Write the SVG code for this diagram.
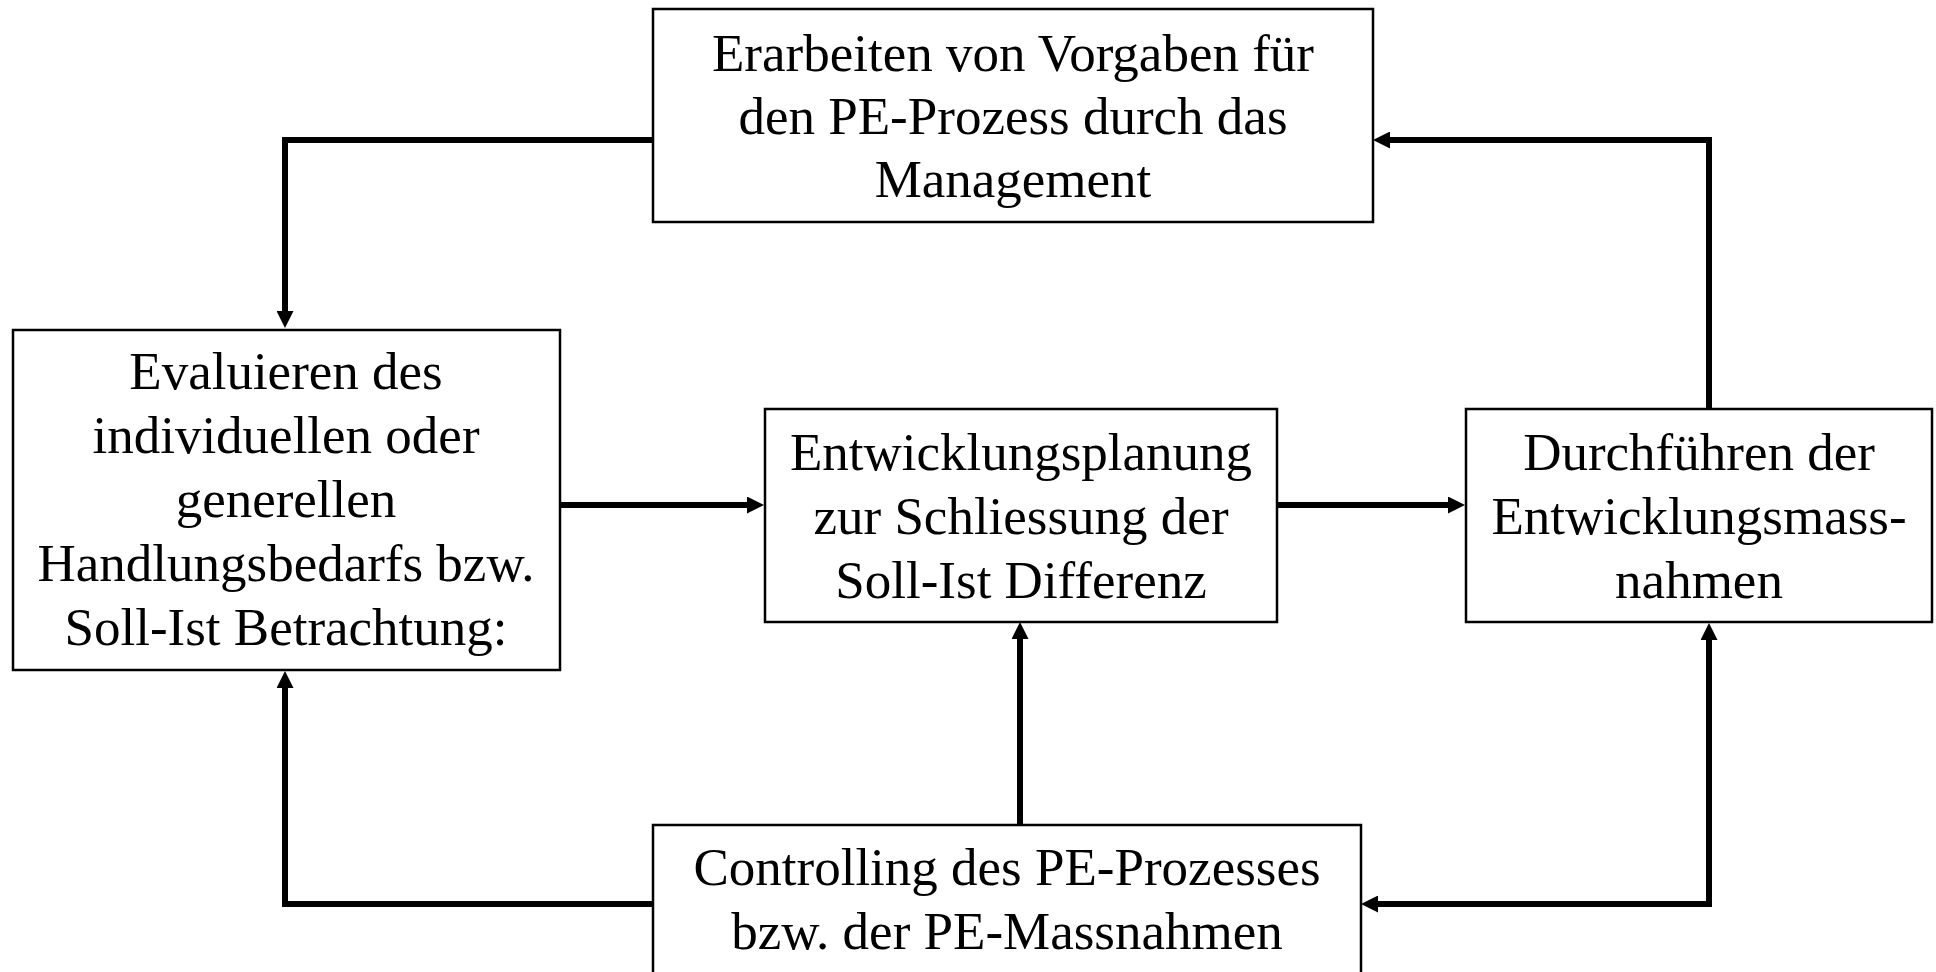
<svg xmlns="http://www.w3.org/2000/svg" width="1936" height="972" viewBox="0 0 1936 972">
  <style>
    .box { fill: #ffffff; stroke: #000000; stroke-width: 2.5; }
    .lbl { font-family: "Liberation Serif", "Times New Roman", serif; font-size: 53px; fill: #000000; text-anchor: middle; }
    .con { fill: none; stroke: #000000; stroke-width: 6; stroke-linejoin: miter; }
  </style>
  <defs>
    <marker id="ah" viewBox="0 0 17 17" refX="7" refY="8.5" markerWidth="17" markerHeight="17" markerUnits="userSpaceOnUse" orient="auto-start-reverse">
      <path d="M0,0 L17,8.5 L0,17 Z" fill="#000000"/>
    </marker>
  </defs>
  <rect width="1936" height="972" fill="#ffffff"/>

  <g id="connectors">
    <path class="con" d="M653,140 H285 V318" marker-end="url(#ah)"/>
    <path class="con" d="M560,505 H754" marker-end="url(#ah)"/>
    <path class="con" d="M1277,505 H1455" marker-end="url(#ah)"/>
    <path class="con" d="M1709,409 V140 H1383" marker-end="url(#ah)"/>
    <path class="con" d="M1020,825 V632" marker-end="url(#ah)"/>
    <path class="con" d="M653,904 H285 V681" marker-end="url(#ah)"/>
    <path class="con" d="M1709,633 V904 H1371" marker-start="url(#ah)" marker-end="url(#ah)"/>
  </g>

  <g id="node-vorgaben">
    <rect class="box" x="653" y="9" width="720" height="213"/>
    <text class="lbl" x="1013" y="71">Erarbeiten von Vorgaben für</text>
    <text class="lbl" x="1013" y="134">den PE-Prozess durch das</text>
    <text class="lbl" x="1013" y="197">Management</text>
  </g>

  <g id="node-evaluieren">
    <rect class="box" x="13" y="330" width="547" height="340"/>
    <text class="lbl" x="286" y="389">Evaluieren des</text>
    <text class="lbl" x="286" y="453">individuellen oder</text>
    <text class="lbl" x="286" y="517">generellen</text>
    <text class="lbl" x="286" y="581">Handlungsbedarfs bzw.</text>
    <text class="lbl" x="286" y="645">Soll-Ist Betrachtung:</text>
  </g>

  <g id="node-planung">
    <rect class="box" x="765" y="409" width="512" height="213"/>
    <text class="lbl" x="1021" y="470">Entwicklungsplanung</text>
    <text class="lbl" x="1021" y="534">zur Schliessung der</text>
    <text class="lbl" x="1021" y="598">Soll-Ist Differenz</text>
  </g>

  <g id="node-durchfuehren">
    <rect class="box" x="1466" y="409" width="466" height="213"/>
    <text class="lbl" x="1699" y="470">Durchführen der</text>
    <text class="lbl" x="1699" y="534">Entwicklungsmass-</text>
    <text class="lbl" x="1699" y="598">nahmen</text>
  </g>

  <g id="node-controlling">
    <rect class="box" x="653" y="825" width="708" height="180"/>
    <text class="lbl" x="1007" y="885">Controlling des PE-Prozesses</text>
    <text class="lbl" x="1007" y="949">bzw. der PE-Massnahmen</text>
  </g>
</svg>
